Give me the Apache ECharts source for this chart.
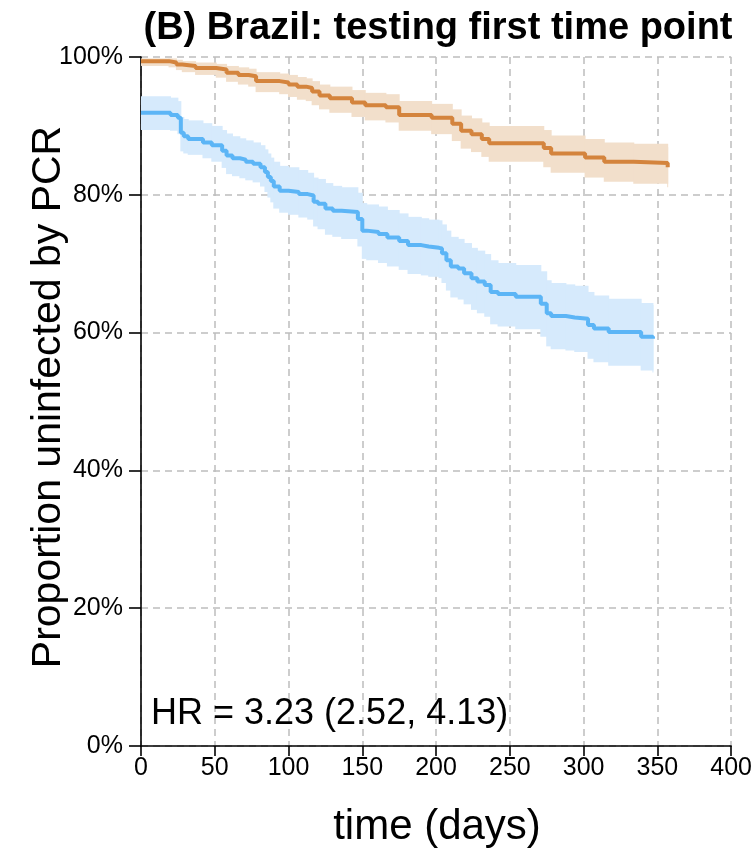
<!DOCTYPE html>
<html>
<head>
<meta charset="utf-8">
<script src="https://cdn.jsdelivr.net/npm/echarts@6/dist/echarts.min.js"></script>
<style>
  html, body { margin: 0; padding: 0; background: #ffffff; }
  #chart { width: 755px; height: 854px; }
</style>
</head>
<body>
<div id="chart"></div>
<script>
// Kaplan-Meier estimates (percent uninfected) with 95% confidence bands.
// Orange group: step times (days), survival, lower and upper band.
const daysOrange  = [0, 19, 24, 28, 37, 51, 58, 66, 73, 78, 94, 100, 106, 112, 116, 121, 128, 143, 152, 166, 175, 197, 211, 217, 224, 231, 236, 273, 278, 301, 314, 334, 357];
const survOrange  = [99.4, 99.2, 98.9, 98.7, 98.4, 98.2, 97.7, 97.4, 97.2, 96.5, 96.3, 96.0, 95.7, 95.5, 95.0, 94.4, 94.0, 93.4, 93.0, 92.7, 91.6, 91.2, 90.3, 89.3, 88.8, 88.1, 87.5, 86.8, 86.0, 85.4, 84.8, 84.6, 84.0];
const lowerOrange = [98.7, 98.5, 98.1, 97.8, 97.4, 97.0, 96.4, 96.0, 95.7, 94.9, 94.6, 94.2, 93.8, 93.6, 93.0, 92.4, 91.9, 91.3, 90.8, 90.5, 89.3, 88.8, 87.8, 86.7, 86.2, 85.5, 84.8, 84.0, 83.2, 82.5, 81.9, 81.6, 81.1];
const upperOrange = [99.8, 99.8, 99.6, 99.4, 99.2, 99.0, 98.7, 98.5, 98.3, 97.8, 97.6, 97.4, 97.1, 96.9, 96.5, 96.0, 95.7, 95.2, 94.8, 94.6, 93.6, 93.2, 92.4, 91.5, 91.1, 90.5, 90.0, 89.4, 88.6, 88.1, 87.6, 87.4, 86.9];

// Blue group.
const daysBlue  = [0, 20, 25, 27, 29, 32, 42, 48, 55, 58, 62, 67, 71, 76, 81, 84, 86, 88, 90, 94, 100, 107, 113, 117, 120, 125, 130, 136, 147, 150, 153, 161, 167, 175, 181, 190, 195, 202, 204, 207, 210, 215, 219, 224, 228, 233, 237, 242, 254, 271, 275, 278, 288, 294, 303, 307, 317, 339, 347];
const survBlue  = [91.9, 91.6, 91.2, 89.0, 88.5, 88.1, 87.6, 87.2, 86.4, 85.7, 85.3, 85.1, 84.8, 84.5, 84.0, 83.3, 82.6, 82.0, 81.2, 80.6, 80.4, 80.1, 79.9, 79.0, 78.7, 78.0, 77.7, 77.5, 76.5, 74.8, 74.6, 74.3, 73.8, 73.3, 72.7, 72.5, 72.3, 72.2, 71.5, 70.5, 69.6, 69.3, 68.6, 67.9, 67.4, 66.9, 65.9, 65.6, 65.2, 64.2, 62.8, 62.4, 62.2, 62.0, 61.1, 60.6, 60.1, 59.4, 59.1];
const lowerBlue = [89.4, 89.3, 88.8, 86.3, 86.0, 85.8, 85.3, 84.8, 83.9, 83.0, 82.7, 82.4, 82.1, 81.8, 81.2, 80.4, 79.6, 78.9, 78.0, 77.4, 77.1, 76.7, 76.4, 75.4, 75.0, 74.2, 73.9, 73.6, 72.5, 70.7, 70.5, 70.1, 69.6, 69.1, 68.5, 68.3, 68.1, 67.9, 67.2, 66.1, 65.1, 64.8, 64.1, 63.3, 62.8, 62.3, 61.2, 60.9, 60.5, 59.4, 58.0, 57.6, 57.4, 57.2, 56.2, 55.7, 55.2, 54.5, 54.2];
const upperBlue = [94.3, 94.1, 93.6, 91.3, 91.0, 90.8, 90.4, 90.0, 89.4, 88.9, 88.5, 88.2, 87.9, 87.6, 87.2, 86.6, 86.0, 85.4, 84.8, 84.2, 84.0, 83.6, 83.2, 82.5, 82.3, 81.7, 81.3, 81.1, 80.3, 78.8, 78.6, 78.3, 77.8, 77.3, 76.8, 76.6, 76.4, 76.3, 75.7, 74.8, 73.9, 73.6, 73.0, 72.3, 71.9, 71.4, 70.5, 70.1, 69.8, 68.9, 67.6, 67.2, 67.0, 66.8, 65.9, 65.4, 64.9, 64.3, 64.0];

// Axis ticks and annotation text.
const xTicks = [0, 50, 100, 150, 200, 250, 300, 350, 400];
const yTicks = [0, 20, 40, 60, 80, 100];
const titleText = '(B) Brazil: testing first time point';
const yTitle = 'Proportion uninfected by PCR';
const xTitle = 'time (days)';
const hrText = 'HR = 3.23 (2.52, 4.13)';

const FONT = '"Liberation Sans", Arial, Helvetica, sans-serif';
const COLOR_ORANGE = '#d4843d';
const COLOR_BLUE = '#5cb5f6';
const BAND_ORANGE = '#f2dfcb';
const BAND_BLUE = '#d6eafc';

const pairs = (xs, ys) => xs.map((x, i) => [x, ys[i]]);

// One row per step of the band: [from day, to day, lower, upper].
const bandRows = (days, lower, upper) =>
  days.map((d, i) => [d, i + 1 < days.length ? days[i + 1] : d, lower[i], upper[i]]);

function bandSeries(days, lower, upper, color) {
  return {
    type: 'custom',
    data: bandRows(days, lower, upper),
    encode: { x: [0, 1], y: [2, 3] },
    silent: true,
    clip: true,
    z: 1,
    renderItem: function (params, api) {
      const topLeft = api.coord([api.value(0), api.value(3)]);
      const bottomRight = api.coord([api.value(1), api.value(2)]);
      // widen by half a pixel on each side so neighbouring steps join without seams
      return {
        type: 'rect',
        shape: {
          x: topLeft[0] - 0.5,
          y: topLeft[1],
          width: bottomRight[0] - topLeft[0] + 1,
          height: bottomRight[1] - topLeft[1]
        },
        style: { fill: color }
      };
    }
  };
}

function curveSeries(days, surv, color) {
  return {
    type: 'line', step: 'end', data: pairs(days, surv),
    symbol: 'none', silent: true,
    lineStyle: { color: color, width: 4 }, z: 3
  };
}

const chart = echarts.init(document.getElementById('chart'), null, { renderer: 'canvas' });

const gridLine = { show: true, lineStyle: { color: '#bdbdbd', width: 1.5, type: [7, 5] } };

chart.setOption({
  animation: false,
  backgroundColor: '#ffffff',
  grid: { left: 141, right: 22, top: 57, bottom: 108, containLabel: false },
  xAxis: {
    type: 'value', min: xTicks[0], max: xTicks[xTicks.length - 1], interval: 50,
    axisLine: { show: true, onZero: false, lineStyle: { color: '#000', width: 1.6 } },
    axisTick: { show: true, length: 10, lineStyle: { color: '#000', width: 1.6 } },
    axisLabel: { color: '#000', fontSize: 25, fontFamily: FONT, margin: 10 },
    splitLine: gridLine
  },
  yAxis: {
    type: 'value', min: yTicks[0], max: yTicks[yTicks.length - 1], interval: 20,
    axisLine: { show: true, onZero: false, lineStyle: { color: '#000', width: 1.6 } },
    axisTick: { show: true, length: 12, lineStyle: { color: '#000', width: 1.6 } },
    axisLabel: { color: '#000', fontSize: 25, fontFamily: FONT, margin: 18, formatter: '{value}%' },
    splitLine: gridLine
  },
  series: [
    bandSeries(daysOrange, lowerOrange, upperOrange, BAND_ORANGE),
    bandSeries(daysBlue, lowerBlue, upperBlue, BAND_BLUE),
    curveSeries(daysOrange, survOrange, COLOR_ORANGE),
    curveSeries(daysBlue, survBlue, COLOR_BLUE)
  ],
  graphic: [
    {
      type: 'text', x: 438, y: 29, z: 10,
      style: { text: titleText, fill: '#000', font: 'bold 38px ' + FONT, textAlign: 'center', textVerticalAlign: 'middle' }
    },
    {
      type: 'text', x: 49, y: 397, rotation: Math.PI / 2, z: 10,
      style: { text: yTitle, fill: '#000', font: '41px ' + FONT, textAlign: 'center', textVerticalAlign: 'middle' }
    },
    {
      type: 'text', x: 437, y: 827, z: 10,
      style: { text: xTitle, fill: '#000', font: '42px ' + FONT, textAlign: 'center', textVerticalAlign: 'middle' }
    },
    {
      type: 'text', x: 151, y: 714, z: 10,
      style: { text: hrText, fill: '#000', font: '36px ' + FONT, textAlign: 'left', textVerticalAlign: 'middle' }
    }
  ]
});
</script>
</body>
</html>
